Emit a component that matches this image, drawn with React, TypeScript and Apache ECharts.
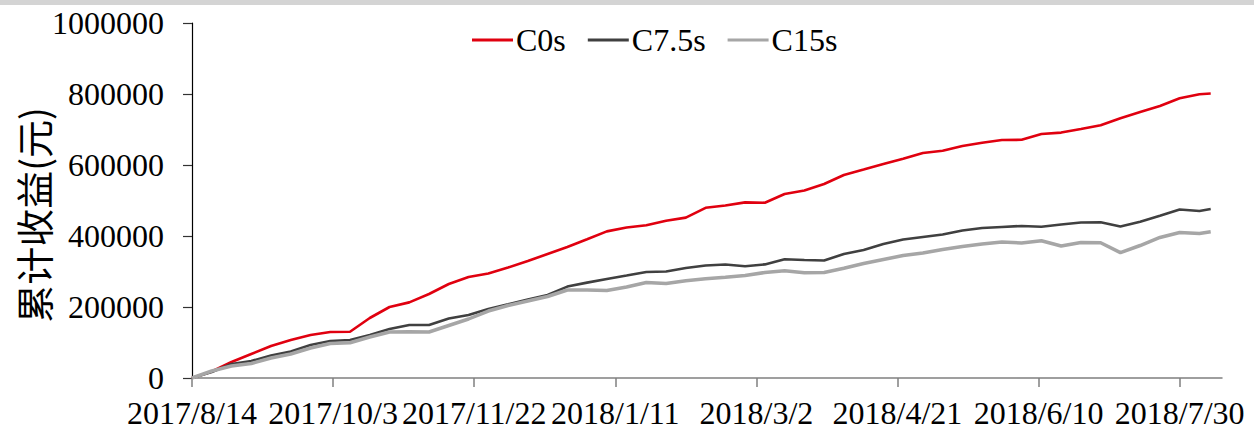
import React, { useEffect, useRef } from "react";
import * as echarts from "echarts";

const dates = [
  "2017/8/14", "2017/8/21", "2017/8/28", "2017/9/4", "2017/9/11", "2017/9/18", "2017/9/25",
  "2017/10/2", "2017/10/9", "2017/10/16", "2017/10/23", "2017/10/30", "2017/11/6", "2017/11/13",
  "2017/11/20", "2017/11/27", "2017/12/4", "2017/12/11", "2017/12/18", "2017/12/25", "2018/1/1",
  "2018/1/8", "2018/1/15", "2018/1/22", "2018/1/29", "2018/2/5", "2018/2/12", "2018/2/19",
  "2018/2/26", "2018/3/5", "2018/3/12", "2018/3/19", "2018/3/26", "2018/4/2", "2018/4/9",
  "2018/4/16", "2018/4/23", "2018/4/30", "2018/5/7", "2018/5/14", "2018/5/21", "2018/5/28",
  "2018/6/4", "2018/6/11", "2018/6/18", "2018/6/25", "2018/7/2", "2018/7/9", "2018/7/16",
  "2018/7/23", "2018/7/30", "2018/8/6", "2018/8/10",
];

const c0s = [
  0, 18300, 45000, 67600, 90100, 107000, 121100, 129600, 130400, 169000, 200000, 213000, 236600,
  264800, 284500, 294400, 311000, 329600, 349300, 369000, 390700, 413000, 424000, 430100, 443100,
  451800, 479400, 485700, 494700, 493800, 518300, 528200, 546500, 571900, 587300, 602800, 617800,
  633800, 640300, 653500, 662500, 670400, 671000, 687300, 691300, 701400, 711900, 731900, 749300,
  766200, 787900, 799200, 801400,
];

const c75s = [
  0, 16900, 39400, 47900, 63400, 74600, 93000, 104200, 107000, 121100, 138000, 149300, 149300,
  167600, 177500, 194400, 207600, 221400, 233800, 257500, 268700, 278900, 288700, 298600, 300000,
  309900, 316900, 319700, 314600, 320000, 334400, 332400, 331000, 349300, 360600, 377500, 390200,
  397200, 404200, 415500, 422600, 425400, 428200, 425900, 432400, 438000, 438900, 426800, 440300,
  457200, 474700, 470400, 476100,
];

const c15s = [
  0, 19700, 33800, 40800, 56300, 67600, 84500, 97200, 99400, 115500, 129600, 130400, 129600,
  147900, 166200, 188700, 204200, 216900, 229600, 247900, 247900, 246500, 256300, 269000, 266200,
  273800, 279400, 283700, 288700, 297200, 302000, 296300, 297200, 309000, 322500, 333800, 345100,
  352100, 362000, 370400, 377500, 383100, 380300, 386800, 371800, 381700, 381100, 353000, 373200,
  395800, 409900, 407100, 412100,
];

const tickLabels = [
  "2017/8/14", "2017/10/3", "2017/11/22", "2018/1/11", "2018/3/2", "2018/4/21", "2018/6/10", "2018/7/30",
];
const axisEnd = "2018/8/14";

const seriesNames = ["C0s", "C7.5s", "C15s"];
const seriesColors = ["#e0000f", "#404040", "#a6a6a6"];

const DAY = 86400000;
const toUTC = (s: string) => {
  const [y, m, d] = s.split("/").map(Number);
  return Date.UTC(y, m - 1, d);
};
const t0 = toUTC(dates[0]);
const dayOf = (s: string) => Math.round((toUTC(s) - t0) / DAY);
const fmtDay = (v: number) => {
  const dt = new Date(t0 + v * DAY);
  return `${dt.getUTCFullYear()}/${dt.getUTCMonth() + 1}/${dt.getUTCDate()}`;
};

export default function App() {
  const ref = useRef<HTMLDivElement>(null);
  useEffect(() => {
    if (!ref.current) return;
    const chart = echarts.init(ref.current, undefined, { renderer: "svg" });
    const serif = "'Liberation Serif', 'Times New Roman', serif";
    const tickDays = tickLabels.map(dayOf);
    const data = [c0s, c75s, c15s];
    chart.setOption({
      animation: false,
      backgroundColor: "#ffffff",
      grid: { left: 192, right: 32, top: 23, bottom: 60, containLabel: false, outerBoundsMode: "none" },
      legend: {
        left: 472,
        top: 24,
        padding: 0,
        itemGap: 22,
        itemWidth: 41,
        itemHeight: 3,
        icon: "rect",
        textStyle: { fontFamily: serif, fontSize: 32, color: "#000", padding: [0, 0, 0, -2] },
        data: seriesNames,
      },
      graphic: [
        { type: "rect", shape: { x: 0, y: 0, width: 1254, height: 5 }, style: { fill: "#d4d4d4" }, silent: true },
        {
          type: "text",
          x: 32,
          y: 215,
          rotation: Math.PI / 2,
          style: {
            text: "累计收益(元)",
            fontFamily: "'Noto Sans CJK SC', sans-serif",
            fontSize: 38,
            fill: "#000",
            align: "center",
            verticalAlign: "middle",
          },
        },
      ],
      xAxis: {
        type: "value",
        min: 0,
        max: dayOf(axisEnd),
        interval: 50,
        splitLine: { show: false },
        axisLine: { show: true, lineStyle: { color: "#7f7f7f", width: 1.5 } },
        axisTick: { show: true, length: 9, inside: false, lineStyle: { color: "#7f7f7f", width: 1.5 }, customValues: tickDays },
        axisLabel: {
          customValues: tickDays,
          formatter: (v: number) => fmtDay(v),
          fontFamily: serif,
          fontSize: 32,
          color: "#000",
          margin: 19,
        },
      },
      yAxis: {
        type: "value",
        min: 0,
        max: 1000000,
        interval: 200000,
        splitLine: { show: false },
        axisLine: { show: true, lineStyle: { color: "#000", width: 1.2 } },
        axisTick: { show: true, length: 9, inside: false, lineStyle: { color: "#333", width: 1.2 } },
        axisLabel: {
          formatter: (v: number) => String(v),
          fontFamily: serif,
          fontSize: 32,
          color: "#000",
          margin: 28,
        },
      },
      series: seriesNames.map((name, i) => ({
        name,
        type: "line",
        showSymbol: false,
        symbol: "none",
        color: seriesColors[i],
        lineStyle: { color: seriesColors[i], width: i === 2 ? 3.5 : 2.6 },
        data: dates.map((d, j) => [dayOf(d), data[i][j]]),
      })),
    });
    return () => chart.dispose();
  }, []);
  return <div ref={ref} style={{ position: "fixed", left: 0, top: 0, width: 1254, height: 438 }} />;
}
